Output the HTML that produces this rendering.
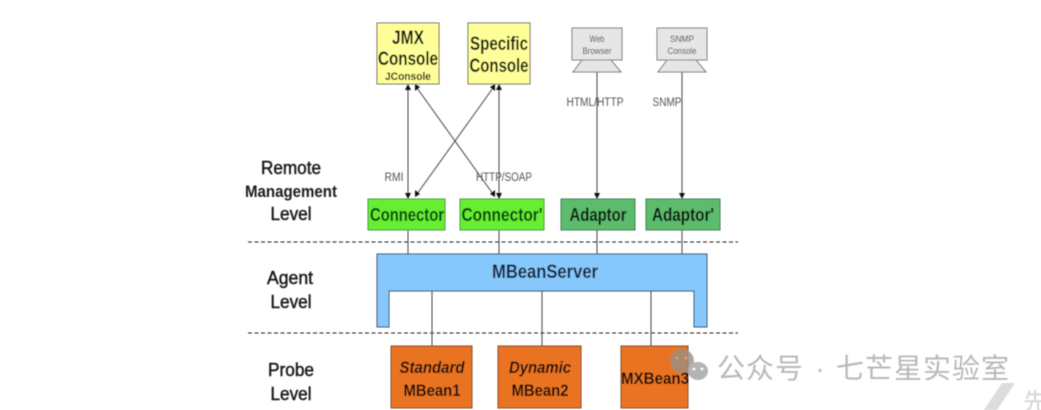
<!DOCTYPE html>
<html><head><meta charset="utf-8"><style>
html,body{margin:0;padding:0;background:#fff;width:1041px;height:410px;overflow:hidden}
svg{display:block}
text{font-family:"Liberation Sans","Noto Sans CJK SC",sans-serif}
.m{text-anchor:middle}
.b{font-weight:bold;fill:#0c0c0c}
.l{font-size:18px;fill:#1a1a1a;stroke:#1a1a1a;stroke-width:0.45}
.s{font-size:11.5px;fill:#555}
.t{font-size:9px;fill:#444}
.ln{stroke:#444;stroke-width:1;fill:none}
.w{font-size:28px;fill:#b8b8b8}
</style></head><body>
<svg width="1041" height="410" viewBox="0 0 1041 410" xmlns="http://www.w3.org/2000/svg">
<defs><filter id="bl" x="-2%" y="-2%" width="104%" height="104%"><feGaussianBlur stdDeviation="0.4"/></filter></defs>
<g filter="url(#bl)">
<line x1="248" y1="242" x2="738" y2="242" stroke="#222" stroke-width="1" stroke-dasharray="4 2.5"/>
<line x1="248" y1="333" x2="738" y2="333" stroke="#222" stroke-width="1" stroke-dasharray="4 2.5"/>
<g class="ln">
<line x1="408" y1="88" x2="408" y2="254"/>
<line x1="499" y1="88" x2="499" y2="254"/>
<line x1="597" y1="72" x2="597" y2="254"/>
<line x1="682" y1="72" x2="682" y2="254"/>
<line x1="417" y1="88" x2="493" y2="194"/>
<line x1="493" y1="88" x2="417" y2="194"/>
<line x1="432" y1="291" x2="432" y2="346"/>
<line x1="542" y1="291" x2="542" y2="346"/>
<line x1="651" y1="291" x2="651" y2="346"/>
</g>
<g fill="#111">
<polygon points="408,84 405,90 411,90"/>
<polygon points="499,84 496,90 502,90"/>
<polygon points="408,199 405,193 411,193"/>
<polygon points="499,199 496,193 502,193"/>
<polygon points="597,199 594,193 600,193"/>
<polygon points="682,199 679,193 685,193"/>
<polygon points="415,84 415,91 420,87"/>
<polygon points="495,84 490,87 495,91"/>
<polygon points="415,197 415,190 420,194"/>
<polygon points="495,197 490,194 495,190"/>
</g>
<rect x="377" y="23" width="62" height="61" fill="#ffff99" stroke="#666"/>
<rect x="468" y="23" width="62" height="61" fill="#ffff99" stroke="#666"/>
<text x="408" y="44" class="m b" font-size="19" textLength="32" lengthAdjust="spacingAndGlyphs">JMX</text>
<text x="408" y="65" class="m b" font-size="19" textLength="60" lengthAdjust="spacingAndGlyphs">Console</text>
<text x="408" y="80" class="m b" font-size="11" textLength="46" lengthAdjust="spacingAndGlyphs">JConsole</text>
<text x="499" y="50" class="m b" font-size="19" textLength="58" lengthAdjust="spacingAndGlyphs">Specific</text>
<text x="499" y="72" class="m b" font-size="19" textLength="59" lengthAdjust="spacingAndGlyphs">Console</text>
<rect x="572" y="28" width="50" height="32" fill="#e6e6e6" stroke="#777"/>
<polygon points="582,60 611,60 621,72 573,72" fill="#e6e6e6" stroke="#777"/>
<rect x="657" y="28" width="50" height="32" fill="#e6e6e6" stroke="#777"/>
<polygon points="667,60 696,60 706,72 658,72" fill="#e6e6e6" stroke="#777"/>
<text x="597" y="42" class="m t" textLength="15" lengthAdjust="spacingAndGlyphs">Web</text>
<text x="597" y="54" class="m t" textLength="29" lengthAdjust="spacingAndGlyphs">Browser</text>
<text x="682" y="42" class="m t" textLength="24" lengthAdjust="spacingAndGlyphs">SNMP</text>
<text x="682" y="54" class="m t" textLength="29" lengthAdjust="spacingAndGlyphs">Console</text>
<text x="595" y="106" class="m s" textLength="57" lengthAdjust="spacingAndGlyphs">HTML/HTTP</text>
<text x="667" y="106" class="m s" textLength="29" lengthAdjust="spacingAndGlyphs">SNMP</text>
<text x="394" y="181" class="m s" textLength="19" lengthAdjust="spacingAndGlyphs">RMI</text>
<text x="504" y="181" class="m s" textLength="56" lengthAdjust="spacingAndGlyphs">HTTP/SOAP</text>
<rect x="368" y="199" width="77" height="31" fill="#66ee33" stroke="#4a9a3a"/>
<rect x="460" y="199" width="84" height="31" fill="#66ee33" stroke="#4a9a3a"/>
<rect x="561" y="199" width="74" height="31" fill="#5cbb6c" stroke="#3f7f50"/>
<rect x="646" y="199" width="74" height="31" fill="#5cbb6c" stroke="#3f7f50"/>
<text x="407" y="221" class="m" font-weight="bold" fill="#043d10" font-size="18" textLength="74" lengthAdjust="spacingAndGlyphs">Connector</text>
<text x="502" y="221" class="m" font-weight="bold" fill="#043d10" font-size="18" textLength="81" lengthAdjust="spacingAndGlyphs">Connector'</text>
<text x="598" y="221" class="m b" font-size="18" textLength="57" lengthAdjust="spacingAndGlyphs">Adaptor</text>
<text x="683" y="221" class="m b" font-size="18" textLength="62" lengthAdjust="spacingAndGlyphs">Adaptor'</text>
<path d="M377 254H707V327H694V291H389V327H377Z" fill="#86c8fb" stroke="#334a66"/>
<text x="545" y="278" class="m" font-size="19" fill="#14233c" font-weight="bold" textLength="106" lengthAdjust="spacingAndGlyphs">MBeanServer</text>
<rect x="391" y="346" width="81" height="62" fill="#ea7322" stroke="#7a4a2a"/>
<rect x="498" y="346" width="83" height="62" fill="#ea7322" stroke="#7a4a2a"/>
<rect x="621" y="346" width="67" height="62" fill="#ea7322" stroke="#7a4a2a"/>
<text x="432" y="373" class="m b" font-size="17" font-style="italic" textLength="65" lengthAdjust="spacingAndGlyphs">Standard</text>
<text x="432" y="396" class="m b" font-size="17" textLength="57" lengthAdjust="spacingAndGlyphs">MBean1</text>
<text x="540" y="373" class="m b" font-size="17" font-style="italic" textLength="62" lengthAdjust="spacingAndGlyphs">Dynamic</text>
<text x="540" y="396" class="m b" font-size="17" textLength="57" lengthAdjust="spacingAndGlyphs">MBean2</text>
<text x="655" y="384" class="m b" font-size="17" textLength="68" lengthAdjust="spacingAndGlyphs">MXBean3</text>
<text x="291" y="174" class="m l" textLength="60" lengthAdjust="spacingAndGlyphs">Remote</text>
<text x="291" y="197" class="m" font-weight="bold" fill="#1a1a1a" font-size="17" textLength="92" lengthAdjust="spacingAndGlyphs">Management</text>
<text x="291" y="220" class="m l" textLength="41" lengthAdjust="spacingAndGlyphs">Level</text>
<text x="290" y="284" class="m l" textLength="46" lengthAdjust="spacingAndGlyphs">Agent</text>
<text x="291" y="308" class="m l" textLength="41" lengthAdjust="spacingAndGlyphs">Level</text>
<text x="291" y="376" class="m l" textLength="46" lengthAdjust="spacingAndGlyphs">Probe</text>
<text x="291" y="400" class="m l" textLength="41" lengthAdjust="spacingAndGlyphs">Level</text>
<circle cx="682" cy="361" r="12" fill="#9a8f86" opacity="0.8"/>
<ellipse cx="698" cy="371" rx="10" ry="9" fill="#b4b4b4"/>
<circle cx="677" cy="358" r="1.6" fill="#d9a066"/>
<circle cx="686" cy="358" r="1.6" fill="#d9a066"/>
<circle cx="694" cy="369" r="1.4" fill="#fff"/>
<circle cx="702" cy="369" r="1.4" fill="#fff"/>
<text x="717" y="378" class="w" letter-spacing="1">公众号</text>
<text x="820" y="378" class="m w">·</text>
<text x="836" y="378" class="w" letter-spacing="1">七芒星实验室</text>
<polygon points="984,410 1002,383 1015,383 997,410" fill="#dcdcdc"/>
<text x="1023" y="410" font-size="24" fill="#d4d4d4">先</text>
</g>
</svg>
</body></html>
